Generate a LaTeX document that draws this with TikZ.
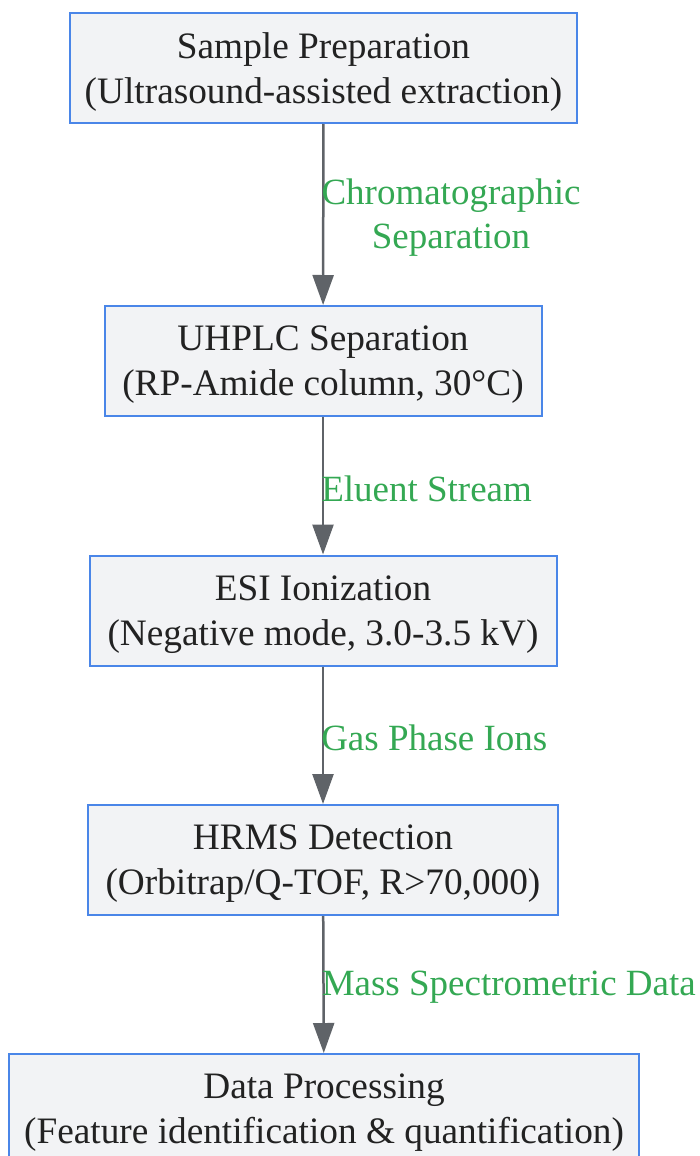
\documentclass[tikz,border=0pt]{standalone}
\usepackage{fontspec}
\setmainfont{Liberation Serif}
\usetikzlibrary{arrows.meta}

\definecolor{boxfill}{HTML}{F2F3F5}
\definecolor{boxline}{HTML}{4A86E8}
\definecolor{flowline}{HTML}{5F6368}
\definecolor{labelgreen}{HTML}{34A853}
\definecolor{textdark}{HTML}{222222}

\begin{document}
\begin{tikzpicture}[x=1pt, y=-1pt,
  stage/.style = {draw=boxline, line width=2pt, fill=boxfill, text=textdark,
    align=center, minimum height=110pt, inner xsep=0pt, text depth=0pt,
    font=\fontsize{37.3}{44.8}\selectfont},
  flow/.style = {-{Triangle[width=21pt, length=30pt]}, line width=2.5pt, draw=flowline},
  flowlabel/.style = {midway, anchor=west, inner sep=0pt, xshift=-3pt, yshift=-3pt,
    text=labelgreen, align=center, font=\fontsize{37}{44.5}\selectfont}]
  % Bounding box of the page
  \useasboundingbox (0,0) rectangle (700,1156);

  % Stages of the workflow
  \node[stage, minimum width=507pt] (prep)  at (323.5,68)   {Sample Preparation\\(Ultrasound-assisted extraction)};
  \node[stage, minimum width=437pt] (uhplc) at (323,361)    {UHPLC Separation\\(RP-Amide column, 30°C)};
  \node[stage, minimum width=467pt] (esi)   at (323,610.5)  {ESI Ionization\\(Negative mode, 3.0-3.5 kV)};
  \node[stage, minimum width=470pt] (hrms)  at (323,860)    {HRMS Detection\\(Orbitrap/Q-TOF, R>70,000)};
  \node[stage, minimum width=630pt] (proc)  at (324,1109)   {Data Processing\\(Feature identification \& quantification)};

  % Connections with their labels
  \draw[flow] (prep)  -- (uhplc) node[flowlabel] {Chromatographic\\Separation};
  \draw[flow] (uhplc) -- (esi)   node[flowlabel] {Eluent Stream};
  \draw[flow] (esi)   -- (hrms)  node[flowlabel] {Gas Phase Ions};
  \draw[flow] (hrms)  -- (proc)  node[flowlabel] {Mass Spectrometric Data};
\end{tikzpicture}
\end{document}
